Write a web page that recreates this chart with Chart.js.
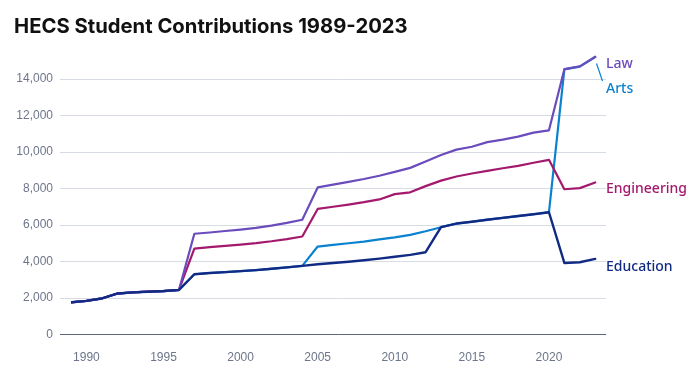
<!DOCTYPE html>
<html>
<head>
<meta charset="utf-8">
<script src="https://cdn.jsdelivr.net/npm/chart.js@4"></script>
<style>
  body { margin: 0; background: #fff; }
  canvas { display: block; }
</style>
</head>
<body>
<canvas id="hecsChart" width="699" height="369"></canvas>
<script>
// --- data ---
const years = [1989, 1990, 1991, 1992, 1993, 1994, 1995, 1996, 1997, 1998,
  1999, 2000, 2001, 2002, 2003, 2004, 2005, 2006, 2007, 2008,
  2009, 2010, 2011, 2012, 2013, 2014, 2015, 2016, 2017, 2018,
  2019, 2020, 2021, 2022, 2023];

const education = [1765, 1840, 1975, 2245, 2310, 2345, 2380, 2440, 3300, 3370,
  3420, 3470, 3530, 3600, 3680, 3760, 3850, 3920, 3990, 4070,
  4160, 4260, 4360, 4510, 5880, 6080, 6180, 6290, 6390, 6490,
  6590, 6700, 3920, 3960, 4140];

const arts = [1765, 1840, 1975, 2245, 2310, 2345, 2380, 2440, 3300, 3370,
  3420, 3470, 3530, 3600, 3680, 3760, 4820, 4910, 5000, 5090,
  5210, 5320, 5460, 5660, 5880, 6080, 6180, 6290, 6390, 6490,
  6590, 6700, 14530, 14680, 15200];

const engineering = [1765, 1840, 1975, 2245, 2310, 2345, 2380, 2440, 4710, 4790,
  4860, 4930, 5010, 5110, 5230, 5370, 6880, 7000, 7120, 7250,
  7400, 7690, 7790, 8130, 8430, 8660, 8820, 8970, 9110, 9240,
  9410, 9570, 7960, 8020, 8330];

const law = [1765, 1840, 1975, 2245, 2310, 2345, 2380, 2440, 5520, 5590,
  5670, 5750, 5840, 5970, 6120, 6290, 8060, 8210, 8360, 8520,
  8700, 8910, 9130, 9480, 9840, 10130, 10290, 10540, 10680, 10840,
  11060, 11190, 14540, 14690, 15220];

const xTicks = [1990, 1995, 2000, 2005, 2010, 2015, 2020];
const yTicks = [0, 2000, 4000, 6000, 8000, 10000, 12000, 14000];

const chartTitle = 'HECS Student Contributions 1989-2023';

// colours
const cores = {
  education: '#112b84',
  law: '#6a4cbd',
  engineering: '#a3196d',
  arts: '#0b82cf'
};

function pontos(valores) {
  return years.map((ano, i) => ({ x: ano, y: valores[i] }));
}

// title + end labels, drawn straight on the canvas
const rotulosPlugin = {
  id: 'rotulos',
  afterDraw(chart) {
    const ctx = chart.ctx;
    ctx.save();

    // title, sized to the reference width
    let tam = 20;
    ctx.font = `700 ${tam}px Inter, "Noto Sans", sans-serif`;
    const w = ctx.measureText(chartTitle).width;
    tam = tam * 394 / w;
    ctx.font = `700 ${tam}px Inter, "Noto Sans", sans-serif`;
    ctx.fillStyle = '#111';
    ctx.textBaseline = 'alphabetic';
    ctx.textAlign = 'left';
    ctx.fillText(chartTitle, 14, 32.7);

    // labels at the right end of each line
    const ultimoY = (idx) => {
      const meta = chart.getDatasetMeta(idx);
      return meta.data[meta.data.length - 1].y;
    };
    const xTexto = 606;
    ctx.font = '500 14px "Noto Sans", sans-serif';

    const yLaw = ultimoY(1) + 10.8;
    ctx.fillStyle = cores.law;
    ctx.fillText('Law', xTexto, yLaw);

    ctx.fillStyle = cores.arts;
    ctx.fillText('Arts', xTexto, yLaw + 25.4);

    ctx.fillStyle = cores.engineering;
    ctx.fillText('Engineering', xTexto, ultimoY(2) + 10.8);

    ctx.fillStyle = cores.education;
    ctx.fillText('Education', xTexto, ultimoY(0) + 11.7);

    // small leader line from the line end down to "Arts"
    ctx.strokeStyle = cores.arts;
    ctx.lineWidth = 1.2;
    ctx.beginPath();
    ctx.moveTo(596.5, 63.5);
    ctx.lineTo(602.5, 81);
    ctx.stroke();

    ctx.restore();
  }
};

const ctx = document.getElementById('hecsChart').getContext('2d');

new Chart(ctx, {
  type: 'line',
  data: {
    datasets: [
      { label: 'Education', data: pontos(education), borderColor: cores.education, borderWidth: 2.4 },
      { label: 'Law', data: pontos(law), borderColor: cores.law, borderWidth: 2.2 },
      { label: 'Engineering', data: pontos(engineering), borderColor: cores.engineering, borderWidth: 2.2 },
      { label: 'Arts', data: pontos(arts), borderColor: cores.arts, borderWidth: 2.2 }
    ]
  },
  options: {
    responsive: false,
    animation: false,
    layout: { padding: { top: 52, right: 93, left: 0, bottom: 0 } },
    elements: {
      point: { radius: 0, hoverRadius: 0 },
      line: { tension: 0, borderJoinStyle: 'round', borderCapStyle: 'round', fill: false }
    },
    scales: {
      x: {
        type: 'linear',
        min: 1989,
        max: 2023.7,
        afterFit(s) { s.height = 34.5; },
        afterBuildTicks(s) { s.ticks = xTicks.map(v => ({ value: v })); },
        grid: { display: false },
        border: { display: false },
        ticks: {
          padding: 8,
          maxRotation: 0,
          color: '#6c7589',
          font: { family: '"Liberation Sans", sans-serif', size: 12 },
          callback: (v) => String(v)
        }
      },
      y: {
        min: 0,
        max: 15480,
        afterFit(s) { s.width = 71; },
        afterBuildTicks(s) { s.ticks = yTicks.map(v => ({ value: v })); },
        border: { display: false },
        grid: {
          tickLength: 11,
          lineWidth: 1,
          color: (c) => (c.tick && c.tick.value === 0) ? '#5c6579' : '#d7dbe2'
        },
        ticks: {
          padding: 7,
          color: '#6c7589',
          font: { family: '"Liberation Sans", sans-serif', size: 12 },
          callback: (v) => v.toLocaleString('en-US')
        }
      }
    },
    plugins: {
      legend: { display: false },
      tooltip: { enabled: false }
    }
  },
  plugins: [rotulosPlugin]
});
</script>
</body>
</html>
